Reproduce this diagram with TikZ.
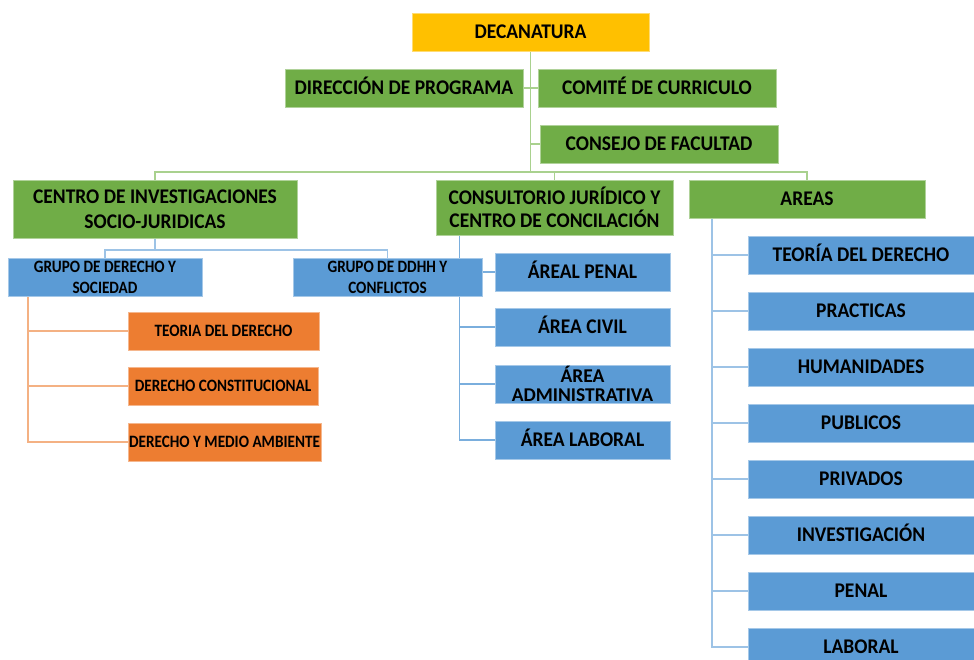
\documentclass[tikz,border=0pt]{standalone}
\usepackage{fontspec}
\setmainfont{Carlito}
\usetikzlibrary{backgrounds}
\definecolor{cgold}{HTML}{FFC000}
\definecolor{cgreen}{HTML}{70AD47}
\definecolor{cblue}{HTML}{5B9BD5}
\definecolor{corange}{HTML}{ED7D31}
\definecolor{lgreen}{HTML}{A9D18E}
\definecolor{lblue}{HTML}{9DC3E6}
\definecolor{mblue}{HTML}{7AAEDD}
\definecolor{lorange}{HTML}{F4B183}
\newcommand\bigfnt{\fontsize{19.5}{23}\selectfont\bfseries}
\newcommand\smlfnt{\fontsize{15.2}{21}\selectfont\bfseries}
\newcommand\myvsbig[1]{\scalebox{1}[1.07]{#1}}
\newcommand\myvssml[1]{\scalebox{1}[1.14]{#1}}
\tikzset{
  box/.style={draw=#1!55!white, fill=#1, line width=0.8pt, inner sep=0pt, align=center, text=black},
  big/.style={font=\bigfnt},
  sml/.style={font=\smlfnt},
  one/.style={text height=13.4pt, text depth=0pt},
  onesml/.style={text height=11.2pt, text depth=0pt},
  gline/.style={draw=lgreen, line width=1.5pt},
  bline/.style={draw=lblue, line width=1.5pt},
  bline2/.style={draw=mblue, line width=1.3pt},
  oline/.style={draw=lorange, line width=1.5pt},
}
\begin{document}
\begin{tikzpicture}[x=1pt,y=-1pt]
\useasboundingbox (0,0) rectangle (974,660);
% top
\node[box=cgold, big, one, minimum width=237pt, minimum height=38pt] (dec) at (530.5,32) {\myvsbig{DECANATURA}};
\node[box=cgreen, big, one, minimum width=238pt, minimum height=38pt] (dir) at (404,88) {\myvsbig{DIRECCIÓN DE PROGRAMA}};
\node[box=cgreen, big, one, minimum width=238pt, minimum height=38pt] (com) at (657,88) {\myvsbig{COMITÉ DE CURRICULO}};
\node[box=cgreen, big, one, minimum width=238pt, minimum height=38pt] (con) at (659,144) {\myvsbig{CONSEJO DE FACULTAD}};
% second level
\node[box=cgreen, minimum width=284pt, minimum height=58pt, font=\fontsize{19.5}{25}\selectfont\bfseries] (cen) at (155,209) {\myvsbig{CENTRO DE INVESTIGACIONES}\\\myvsbig{SOCIO-JURIDICAS}};
\node[box=cgreen, minimum width=237pt, minimum height=55pt, font=\fontsize{19.5}{23}\selectfont\bfseries] (cons) at (554.5,207.5) {\myvsbig{CONSULTORIO JURÍDICO Y}\\\myvsbig{CENTRO DE CONCILACIÓN}};
\node[box=cgreen, big, one, minimum width=236pt, minimum height=38pt] (areas) at (807,199) {\myvsbig{AREAS}};
% groups
\node[box=cblue, sml, minimum width=194pt, minimum height=38pt] (g1) at (105,277) {\myvssml{GRUPO DE DERECHO Y}\\\myvssml{SOCIEDAD}};
\node[box=cblue, sml, minimum width=189pt, minimum height=38pt] (g2) at (387.5,277) {\myvssml{GRUPO DE DDHH Y}\\\myvssml{CONFLICTOS}};
% orange
\node[box=corange, sml, onesml, minimum width=191pt, minimum height=38pt] (o1) at (223.5,331) {\myvssml{TEORIA DEL DERECHO}};
\node[box=corange, sml, onesml, minimum width=190pt, minimum height=38pt] (o2) at (223,386) {\myvssml{DERECHO CONSTITUCIONAL}};
\node[box=corange, sml, onesml, minimum width=193pt, minimum height=38pt] (o3) at (224.5,442) {\myvssml{DERECHO Y MEDIO AMBIENTE}};
% consultorio areas
\node[box=cblue, big, one, minimum width=175pt, minimum height=38pt] (p1) at (582.5,272) {\myvsbig{ÁREAL PENAL}};
\node[box=cblue, big, one, minimum width=175pt, minimum height=38pt] (p2) at (582.5,327) {\myvsbig{ÁREA CIVIL}};
\node[box=cblue, minimum width=175pt, minimum height=38pt] (p3) at (582.5,384) {};
\node[inner sep=0pt, align=center, font=\fontsize{19.5}{19}\selectfont\bfseries] (p3t) at (582.5,384) {ÁREA\\ADMINISTRATIVA};
\node[box=cblue, big, one, minimum width=175pt, minimum height=38pt] (p4) at (582.5,440) {\myvsbig{ÁREA LABORAL}};
% right column
\node[box=cblue, big, one, minimum width=226pt, minimum height=38pt] (r1) at (861,255) {\myvsbig{TEORÍA DEL DERECHO}};
\node[box=cblue, big, one, minimum width=226pt, minimum height=38pt] (r2) at (861,311) {\myvsbig{PRACTICAS}};
\node[box=cblue, big, one, minimum width=226pt, minimum height=38pt] (r3) at (861,367) {\myvsbig{HUMANIDADES}};
\node[box=cblue, big, one, minimum width=226pt, minimum height=38pt] (r4) at (861,423) {\myvsbig{PUBLICOS}};
\node[box=cblue, big, one, minimum width=226pt, minimum height=38pt] (r5) at (861,479) {\myvsbig{PRIVADOS}};
\node[box=cblue, big, one, minimum width=226pt, minimum height=38pt] (r6) at (861,535) {\myvsbig{INVESTIGACIÓN}};
\node[box=cblue, big, one, minimum width=226pt, minimum height=38pt] (r7) at (861,591) {\myvsbig{PENAL}};
\node[box=cblue, big, one, minimum width=226pt, minimum height=38pt] (r8) at (861,647) {\myvsbig{LABORAL}};
% coordinates
\coordinate (bus) at (530.5,172);
\coordinate (gbus) at (155,250);
\coordinate (ot) at (28,296);
\coordinate (ct) at (459.5,235);
\coordinate (at) at (712,218);
\begin{scope}[on background layer]
\draw[gline] (dec.south) -- (bus);
\draw[gline] (dir.east) -- (dir.east -| bus);
\draw[gline] (com.west) -- (com.west -| bus);
\draw[gline] (con.west) -- (con.west -| bus);
\draw[gline] (cen.north) |- (bus) -| (areas.north);
\draw[gline] (cons.north) -- (cons.north |- bus);
\draw[bline] (cen.south) -- (gbus);
\draw[bline] (g1.north) |- (gbus) -| (g2.north);
\draw[oline] (ot) |- (o3.west);
\draw[oline] (ot |- o1.west) -- (o1.west);
\draw[oline] (ot |- o2.west) -- (o2.west);
\draw[bline2] (ct) |- (p4.west);
\draw[bline2] (ct |- p1.west) -- (p1.west);
\draw[bline2] (ct |- p2.west) -- (p2.west);
\draw[bline2] (ct |- p3.west) -- (p3.west);
\draw[bline] (at) |- (r8.west);
\foreach \i in {1,...,7} { \draw[bline] (at |- r\i.west) -- (r\i.west); }
\end{scope}
\end{tikzpicture}
\end{document}
